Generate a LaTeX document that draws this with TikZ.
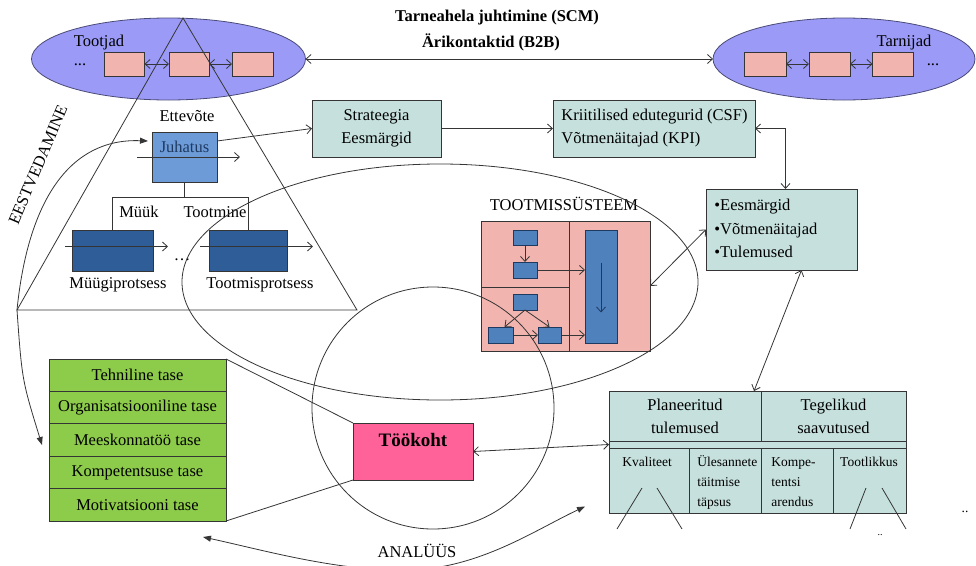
\documentclass[tikz,border=0pt]{standalone}
\usepackage{fontspec}
\setmainfont{Liberation Serif}
\usetikzlibrary{arrows.meta,shapes.geometric,calc}
\definecolor{lav}{HTML}{9B9BF7}
\definecolor{lavline}{HTML}{4A4A78}
\definecolor{salmon}{HTML}{F2B4AE}
\definecolor{mint}{HTML}{C6E1DD}
\definecolor{midblue}{HTML}{6C9BD8}
\definecolor{darkblue}{HTML}{2F5D97}
\definecolor{stepblue}{HTML}{4F81BD}
\definecolor{blueline}{HTML}{1F3A60}
\definecolor{hotpink}{HTML}{FF6199}
\definecolor{leaf}{HTML}{8DCB4A}
\definecolor{ink}{HTML}{353535}
\tikzset{
  wh/.style 2 args={minimum width=#1,minimum height=#2},
  base/.style={draw=ink,inner sep=0pt,outer sep=0pt},
  chainbox/.style={base,fill=salmon},
  mintbox/.style={base,fill=mint,font=\fontsize{16.5}{23}\selectfont},
  flowbox/.style={base,draw=blueline,fill=stepblue},
  txt/.style={inner sep=0pt,font=\fontsize{16.5}{23}\selectfont,text=black},
  smalltxt/.style={inner sep=0pt,font=\fontsize{13.5}{20}\selectfont,text=black},
  barb/.style={-{Straight Barb[length=5pt,width=9pt]}},
  barbs/.style={{Straight Barb[length=5pt,width=9pt]}-{Straight Barb[length=5pt,width=9pt]}},
  solidtip/.style={-{Triangle[length=8pt,width=6pt]}},
  solidtips/.style={{Triangle[length=8pt,width=6pt]}-{Triangle[length=8pt,width=6pt]}}
}
\begin{document}
\begin{tikzpicture}[x=1pt,y=-1pt,line width=0.8pt,draw=ink]
\useasboundingbox (0,0) rectangle (976,565);

% ---- supply chain ellipses ----
\node[ellipse,draw=lavline,fill=lav,inner sep=0pt,outer sep=0pt,wh={274}{82}] (makers) at (168.5,59) {};
\node[ellipse,draw=lavline,fill=lav,inner sep=0pt,outer sep=0pt,wh={262}{82}] (suppliers) at (844,59) {};
\node[txt] (makerslbl) at (99,43) {Tootjad};
\node[txt] (makersdots) at (80,65) {...};
\node[chainbox,wh={40}{24}] (s1) at (124.5,64) {};
\node[chainbox,wh={40}{24}] (s2) at (189,64) {};
\node[chainbox,wh={41}{24}] (s3) at (252.5,64) {};
\draw[barbs] (s1) -- (s2);
\draw[barbs] (s2) -- (s3);
\node[txt] (supplbl) at (904,43) {Tarnijad};
\node[txt] (suppdots) at (933,65) {...};
\node[chainbox,wh={42}{24}] (t1) at (765,64) {};
\node[chainbox,wh={41}{24}] (t2) at (829.5,64) {};
\node[chainbox,wh={41}{24}] (t3) at (893,64) {};
\draw[barbs] (t1) -- (t2);
\draw[barbs] (t2) -- (t3);
\draw[barbs] (makers.east) -- (suppliers.west);
\node[txt,font=\bfseries\fontsize{16.5}{23}\selectfont] (scm) at (497,18) {Tarneahela juhtimine (SCM)};
\node[txt,font=\bfseries\fontsize{16.5}{23}\selectfont] (b2b) at (491,42) {Ärikontaktid (B2B)};

% ---- company triangle ----
\coordinate (apex) at (183,18);
\coordinate (apexL) at (17,310);
\coordinate (apexR) at (357,310);
\draw (apex) -- (apexL) -- (apexR) -- cycle;
\node[txt] (company) at (187,116) {Ettevõte};
\node[base,fill=midblue,wh={65}{50}] (juh) at (184.5,157) {};
\node[txt,text=blueline] (juhlbl) at (184.5,147) {Juhatus};
\draw[barb] ($(juh.west)+(-15,0)$) -- ($(juh.east)+(23,0)$);
\node[base,fill=darkblue,wh={81}{41}] (mp) at (112.5,250.5) {};
\node[base,fill=darkblue,wh={78}{41}] (tp) at (248,250.5) {};
\draw (juh.south) -- ++(0,15) -| (mp.north);
\draw (juh.south) -- ++(0,15) -| (tp.north);
\draw[barb] ($(mp.west)+(-7,-4)$) -- ($(mp.east)+(15,-4)$);
\draw[barb] ($(tp.west)+(-9,-4)$) -- ($(tp.east)+(26,-4)$);
\node[txt] (sales) at (139,212) {Müük};
\node[txt] (production) at (215,212) {Tootmine};
\node[txt] (procdots) at (182,260) {…};
\node[txt] (salesproc) at (118,285) {Müügiprotsess};
\node[txt] (prodproc) at (260,285) {Tootmisprotsess};
\node[txt,rotate=67] (lead) at (38,165) {EESTVEDAMINE};

% ---- strategy chain ----
\node[mintbox,align=center,wh={129}{57}] (str) at (376.5,128.5) {Strateegia\\Eesmärgid};
\node[mintbox,wh={202}{57}] (csf) at (654,128.5) {};
\node[txt,anchor=west,align=left] (csflbl) at (561,128.5) {Kriitilised edutegurid (CSF)\\Võtmenäitajad (KPI)};
\node[mintbox,wh={151}{81}] (ees) at (781.5,229.5) {};
\node[txt,anchor=west,align=left,font=\fontsize{16.5}{23.5}\selectfont] (eeslbl) at (714,228.5) {•Eesmärgid\\•Võtmenäitajad\\•Tulemused};
\draw[barb] ($(juh.north east)+(0,9)$) -- (str.west);
\draw[barb] (str.east) -- (csf.west);
\draw[barbs] (csf.east) -| ($(ees.north)+(4,0)$);

% ---- production system ----
\node[txt] (syslbl) at (564,204) {TOOTMISSÜSTEEM};
\node[base,fill=salmon,wh={169}{130}] (ts) at (565.5,286) {};
\draw (569,221) -- (569,351);
\draw (481,287) -- (569,287);
\node[flowbox,wh={24}{15}] (b1) at (525,237.5) {};
\node[flowbox,wh={24}{16}] (b2) at (525,270) {};
\node[flowbox,wh={24}{16}] (b3) at (525,302) {};
\node[flowbox,wh={25}{16}] (b4) at (500.5,335) {};
\node[flowbox,wh={23}{16}] (b5) at (549.5,335) {};
\node[flowbox,wh={32}{113}] (tb) at (601,286.5) {};
\draw[barb] (b1.south) -- (b2.north);
\draw[barb] (b2.east) -- (tb.west |- b2.east);
\draw[barb] (b3.south) -- ($(b4.north)+(4,0)$);
\draw[barb] (b3.south) -- (b5.north);
\draw[barb] (b4.east) -- (b5.west);
\draw[barb] (b5.east) -- (tb.west |- b5.east);
\draw[barb,draw=blueline] ($(tb.center)+(0,-24)$) -- ($(tb.center)+(0,26)$);
\draw[barbs] (ts.east) -- (ees.west);

% ---- competence levels ----
\node[base,fill=leaf,wh={177}{32.4},font=\fontsize{16.5}{23}\selectfont] (g1) at (137.5,375.2) {Tehniline tase};
\node[base,fill=leaf,wh={177}{32.4},font=\fontsize{16.5}{23}\selectfont] (g2) at (137.5,407.6) {Organisatsiooniline tase};
\node[base,fill=leaf,wh={177}{32.4},font=\fontsize{16.5}{23}\selectfont] (g3) at (137.5,440) {Meeskonnatöö tase};
\node[base,fill=leaf,wh={177}{32.4},font=\fontsize{16.5}{23}\selectfont] (g4) at (137.5,472.4) {Kompetentsuse tase};
\node[base,fill=leaf,wh={177}{32.4},font=\fontsize{16.5}{23}\selectfont] (g5) at (137.5,504.8) {Motivatsiooni tase};

% ---- workplace ----
\node[base,fill=hotpink,wh={120}{57}] (tk) at (413,451.5) {};
\node[txt,font=\bfseries\fontsize{19}{22}\selectfont] (tklbl) at (413,440) {Töökoht};
\draw (g1.north east) -- (tk.north west);
\draw (g5.south east) -- (tk.south west);

% ---- results table ----
\node[mintbox,align=center,wh={152}{50}] (p1) at (685,416) {Planeeritud\\tulemused};
\node[mintbox,align=center,wh={145}{50}] (p2) at (833.5,416) {Tegelikud\\saavutused};
\node[base,fill=mint,wh={297}{7}] (st) at (757.5,444.5) {};
\node[base,fill=mint,wh={80}{65}] (c1) at (649,480.5) {};
\node[base,fill=mint,wh={72}{65}] (c2) at (725,480.5) {};
\node[base,fill=mint,wh={72}{65}] (c3) at (797,480.5) {};
\node[base,fill=mint,wh={73}{65}] (c4) at (869.5,480.5) {};
\node[smalltxt] (quality) at (647,462) {Kvaliteet};
\node[smalltxt,anchor=west,align=left] (accuracy) at (697,482) {Ülesannete\\täitmise\\täpsus};
\node[smalltxt,anchor=west,align=left] (growth) at (771,482) {Kompe-\\tentsi\\arendus};
\node[smalltxt] (productivity) at (869,462) {Tootlikkus};
\draw ($(c1.center)+(-7,7.5)$) -- ($(c1.center)+(-32,48.5)$);
\draw ($(c1.center)+(8,7.5)$) -- ($(c1.center)+(33,48.5)$);
\draw ($(c4.center)+(-3.5,7.5)$) -- ($(c4.center)+(-19.5,48.5)$);
\draw ($(c4.center)+(12.5,7.5)$) -- ($(c4.center)+(36.5,48.5)$);
\node[smalltxt,font=\fontsize{10}{12}\selectfont] (subdots) at (880,535) {..};
\node[smalltxt] (moredots) at (965,512) {..};

\draw[barbs] ($(ees.south)+(20,0)$) -- ($(p1.north east)+(-7,0)$);
\draw[barbs] (tk.east) -- (st.west);

% ---- scopes: production system and workplace ----
\draw (440,282) ellipse [x radius=258pt,y radius=118pt];
\draw (433,408) circle [radius=121pt];

% ---- leadership and analysis arcs ----
\draw[solidtip] (apexL) .. controls (28,200) and (70,138) .. ($(juh.west)+(-4,-16)$);
\draw[solidtip] (apexL) .. controls (22,380) .. ($(g3.west)+(-7,5)$);
\draw[solidtips] ($(c1.west)+(-24,26)$) .. controls (535,530) and (480,568) .. (410,570)
  .. controls (340,572) and (263,550) .. ($(g5.south east)+(-23,16)$);
\node[txt,fill=white,inner sep=1pt] (analysis) at (417,551) {ANALÜÜS};
\end{tikzpicture}
\end{document}
